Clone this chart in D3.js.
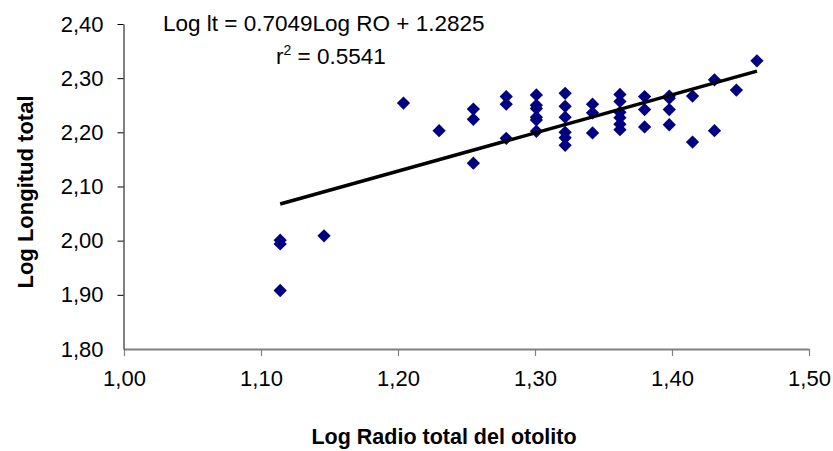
<!DOCTYPE html>
<html>
<head>
<meta charset="utf-8">
<script src="https://cdn.jsdelivr.net/npm/d3@7"></script>
<style>
  html, body { margin: 0; padding: 0; background: #fff; }
  svg { display: block; font-family: "Liberation Sans", Arial, sans-serif; }
</style>
</head>
<body>
<svg id="chart" width="833" height="451"></svg>
<script>
// Log radio total del otolito (x) and Log longitud total (y)
const radioLog = [
  1.114, 1.114, 1.114,
  1.146,
  1.204,
  1.230,
  1.255, 1.255, 1.255,
  1.279, 1.279, 1.279,
  1.301, 1.301, 1.301, 1.301, 1.301, 1.301,
  1.322, 1.322, 1.322, 1.322, 1.322, 1.322,
  1.342, 1.342, 1.342,
  1.362, 1.362, 1.362, 1.362, 1.362, 1.362,
  1.380, 1.380, 1.380,
  1.398, 1.398, 1.398, 1.398,
  1.415, 1.415,
  1.431, 1.431,
  1.447,
  1.462
];
const longitudLog = [
  2.001, 1.994, 1.908,
  2.009,
  2.254,
  2.203,
  2.243, 2.224, 2.143,
  2.266, 2.252, 2.189,
  2.269, 2.250, 2.244, 2.228, 2.223, 2.202,
  2.272, 2.248, 2.228, 2.200, 2.190, 2.176,
  2.252, 2.236, 2.199,
  2.270, 2.257, 2.237, 2.227, 2.215, 2.205,
  2.266, 2.242, 2.210,
  2.267, 2.263, 2.242, 2.214,
  2.267, 2.182,
  2.297, 2.203,
  2.278,
  2.332
];
const xTicks = [1.00, 1.10, 1.20, 1.30, 1.40, 1.50];
const yTicks = [1.80, 1.90, 2.00, 2.10, 2.20, 2.30, 2.40];
const trendSlope = 0.7049;
const trendIntercept = 1.2825;
const eqLine1 = "Log lt = 0.7049Log RO + 1.2825";
const r2Value = "0.5541";
const xTitle = "Log Radio total del otolito";
const yTitle = "Log Longitud total";

const svg = d3.select("#chart");
const x = d3.scaleLinear().domain([1.0, 1.5]).range([124, 809]);
const y = d3.scaleLinear().domain([1.8, 2.4]).range([349, 24]);
const fmt = v => d3.format(".2f")(v).replace(".", ",");

svg.append("rect").attr("width", 833).attr("height", 451).attr("fill", "#fff");

// X axis (gray)
const xAxis = svg.append("g").attr("transform", "translate(0,349)")
  .call(d3.axisBottom(x).tickValues(xTicks).tickFormat(fmt).tickSize(7).tickSizeOuter(0).tickPadding(14));
xAxis.select(".domain").attr("stroke", "#808080").attr("stroke-width", 2);
xAxis.selectAll(".tick line").attr("stroke", "#808080").attr("stroke-width", 1.2);
xAxis.selectAll("text").attr("font-size", 22).attr("fill", "#000")
  .attr("font-family", "'Liberation Sans', Arial, sans-serif");

// Y axis (black)
const yAxis = svg.append("g").attr("transform", "translate(123.5,0)")
  .call(d3.axisLeft(y).tickValues(yTicks).tickFormat(fmt).tickSize(6).tickSizeOuter(0).tickPadding(14));
yAxis.select(".domain").attr("stroke", "#000").attr("stroke-width", 1);
yAxis.selectAll(".tick line").attr("stroke", "#000");
yAxis.selectAll("text").attr("font-size", 22).attr("fill", "#000")
  .attr("font-family", "'Liberation Sans', Arial, sans-serif");
yAxis.selectAll(".tick").filter(d => d === 1.80).select("line").remove();

// Points
const diamond = d3.symbol().type(d3.symbolSquare).size(88);
svg.append("g").selectAll("path")
  .data(radioLog.map((r, i) => [r, longitudLog[i]]))
  .join("path")
  .attr("d", diamond)
  .attr("transform", d => `translate(${x(d[0])},${y(d[1])}) rotate(45)`)
  .attr("fill", "#000080");

// Trend line
const xMin = d3.min(radioLog), xMax = d3.max(radioLog);
svg.append("line")
  .attr("x1", x(xMin)).attr("y1", y(trendSlope * xMin + trendIntercept))
  .attr("x2", x(xMax)).attr("y2", y(trendSlope * xMax + trendIntercept))
  .attr("stroke", "#000").attr("stroke-width", 3.5);

// Equation
svg.append("text").attr("x", 163).attr("y", 31).attr("font-size", 22.5).attr("fill", "#000")
  .text(eqLine1);
const r2 = svg.append("text").attr("x", 276).attr("y", 64).attr("font-size", 22.5).attr("fill", "#000");
r2.append("tspan").text("r");
r2.append("tspan").attr("font-size", 14).attr("dy", -9).text("2");
r2.append("tspan").attr("dy", 9).text(" = " + r2Value);

// Axis titles
svg.append("text").attr("x", 444).attr("y", 444).attr("text-anchor", "middle")
  .attr("font-size", 21.5).attr("font-weight", "bold").attr("fill", "#000").text(xTitle);
svg.append("text").attr("transform", "translate(33,192) rotate(-90)").attr("text-anchor", "middle")
  .attr("font-size", 22).attr("font-weight", "bold").attr("fill", "#000").text(yTitle);
</script>
</body>
</html>
